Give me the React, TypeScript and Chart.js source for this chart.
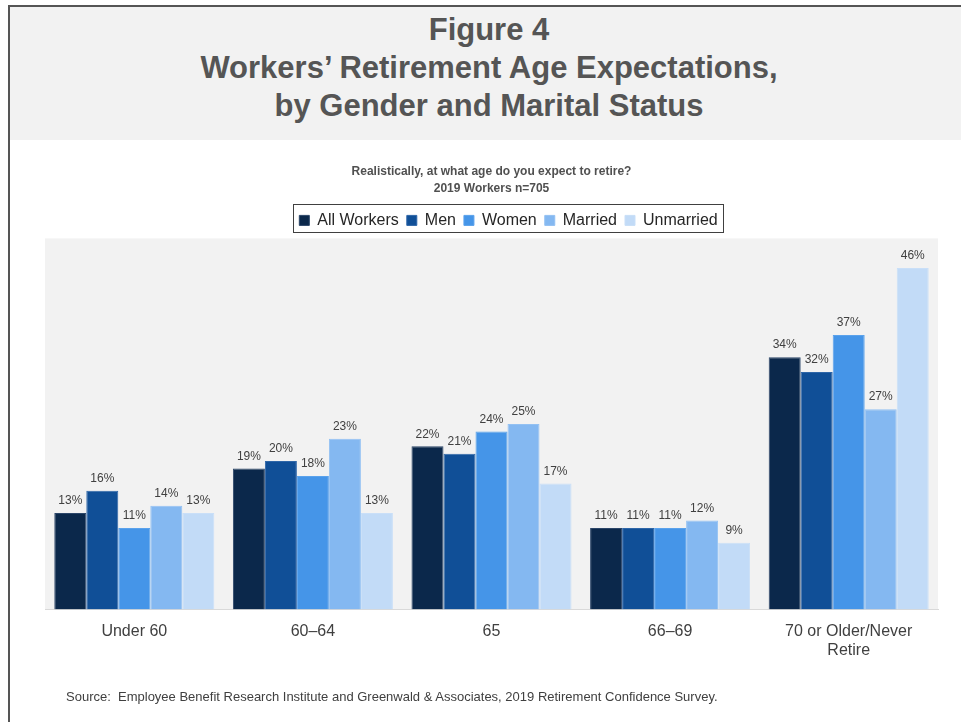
import React, { useEffect, useRef } from "react";
import { Chart, registerables } from "chart.js";

Chart.register(...registerables);

const categories: (string | string[])[] = ["Under 60", "60–64", "65", "66–69", ["70 or Older/Never", "Retire"]];
const seriesNames = ["All Workers", "Men", "Women", "Married", "Unmarried"];
const allWorkers = [13, 19, 22, 11, 34];
const men = [16, 20, 21, 11, 32];
const women = [11, 18, 24, 11, 37];
const married = [14, 23, 25, 12, 27];
const unmarried = [13, 13, 17, 9, 46];
const seriesValues = [allWorkers, men, women, married, unmarried];
const fillColors = ["#0b284b", "#104f97", "#4595e8", "#84b8f1", "#c2dbf7"];
const edgeColors = ["#2c4669", "#2e66a8", "#5aa2ec", "#93c1f3", "#c9dff8"];
const titleLines = ["Figure 4", "Workers’ Retirement Age Expectations,", "by Gender and Marital Status"];
const subtitleLines = ["Realistically, at what age do you expect to retire?", "2019 Workers n=705"];
const sourceText = "Source:  Employee Benefit Research Institute and Greenwald & Associates, 2019 Retirement Confidence Survey.";

const FONT = "'Liberation Sans', Arial, sans-serif";

export default function App() {
  const ref = useRef<HTMLCanvasElement | null>(null);

  useEffect(() => {
    if (!ref.current) return;

    const plotBg = {
      id: "plotBg",
      beforeDraw(chart: any) {
        const { ctx, chartArea } = chart;
        ctx.save();
        ctx.fillStyle = "#f2f2f2";
        ctx.fillRect(chartArea.left, chartArea.top, chartArea.right - chartArea.left, chartArea.bottom - chartArea.top);
        ctx.restore();
      },
    };

    const legendShift = {
      id: "legendShift",
      afterLayout(chart: any) {
        const lg = chart.legend;
        if (!lg) return;
        const dx = 17;
        lg.left += dx;
        lg.right += dx;
        (lg.legendHitBoxes || []).forEach((h: any) => (h.left += dx));
      },
    };

    const legendBorder = {
      id: "legendBorder",
      afterDraw(chart: any) {
        const lg = chart.legend;
        if (!lg || !lg.legendHitBoxes || !lg.legendHitBoxes.length) return;
        const hb = lg.legendHitBoxes;
        const l = Math.min(...hb.map((h: any) => h.left));
        const r = Math.max(...hb.map((h: any) => h.left + h.width));
        const t = Math.min(...hb.map((h: any) => h.top));
        const b = Math.max(...hb.map((h: any) => h.top + h.height));
        const { ctx } = chart;
        ctx.save();
        ctx.strokeStyle = "#404040";
        ctx.lineWidth = 1;
        ctx.strokeRect(Math.round(l - 6) + 0.5, Math.round(t - 8) + 0.5, Math.round(r - l + 12), Math.round(b - t + 12));
        ctx.restore();
      },
    };

    const valueLabels = {
      id: "valueLabels",
      afterDatasetsDraw(chart: any) {
        const { ctx } = chart;
        ctx.save();
        ctx.font = `12px ${FONT}`;
        ctx.fillStyle = "#404040";
        ctx.textAlign = "center";
        ctx.textBaseline = "bottom";
        chart.data.datasets.forEach((ds: any, i: number) => {
          const meta = chart.getDatasetMeta(i);
          meta.data.forEach((el: any, j: number) => {
            ctx.fillText(`${ds.data[j]}%`, el.x, el.y - 6);
          });
        });
        ctx.restore();
      },
    };

    const chart = new Chart(ref.current, {
      type: "bar",
      data: {
        labels: categories as any,
        datasets: seriesNames.map((name, i) => ({
          label: name,
          data: seriesValues[i],
          backgroundColor: fillColors[i],
          borderColor: edgeColors[i],
          borderWidth: 1,
          categoryPercentage: 0.896,
          barPercentage: 1,
        })),
      },
      options: {
        responsive: false,
        animation: false,
        layout: { padding: { left: 45, right: 23, top: 0, bottom: 50 } },
        plugins: {
          title: {
            display: true,
            text: subtitleLines,
            color: "#505050",
            font: { family: FONT, size: 12, weight: "bold", lineHeight: 1.35 },
            padding: { top: 164, bottom: 8 },
          },
          legend: {
            display: true,
            position: "top",
            labels: {
              boxWidth: 10,
              boxHeight: 10,
              color: "#262626",
              font: { family: FONT, size: 16 },
              padding: 8,
            },
          },
          tooltip: { enabled: false },
        },
        scales: {
          x: {
            grid: { display: false, drawTicks: false },
            border: { display: true, color: "#d9d9d9", width: 1 },
            ticks: {
              color: "#404040",
              font: { family: FONT, size: 16, lineHeight: 1.2 },
              padding: 12,
              maxRotation: 0,
              autoSkip: false,
            },
          },
          y: {
            display: false,
            min: 0,
            max: 50,
          },
        },
      },
      plugins: [plotBg, legendShift, legendBorder, valueLabels],
    } as any);

    return () => chart.destroy();
  }, []);

  return (
    <div style={{ position: "absolute", left: 0, top: 0, width: 961, height: 722, background: "#fff", overflow: "hidden", fontFamily: FONT }}>
      <div style={{ position: "absolute", left: 10, top: 7, right: 0, height: 133, background: "#f2f2f2" }} />
      <div style={{ position: "absolute", left: 8, top: 5, right: 0, height: 2, background: "#555" }} />
      <div style={{ position: "absolute", left: 8, top: 5, width: 2, bottom: 0, background: "#555" }} />
      <div style={{ position: "absolute", left: 0, top: 11, width: 978, textAlign: "center", color: "#555", fontWeight: "bold", fontSize: 31, lineHeight: "38px" }}>
        {titleLines.map((t) => (
          <div key={t}>{t}</div>
        ))}
      </div>
      <canvas ref={ref} width={961} height={722} style={{ position: "absolute", left: 0, top: 0, width: 961, height: 722 }} />
      <div style={{ position: "absolute", left: 66, top: 690, fontSize: 13, lineHeight: "14px", color: "#404040", whiteSpace: "pre" }}>{sourceText}</div>
    </div>
  );
}
